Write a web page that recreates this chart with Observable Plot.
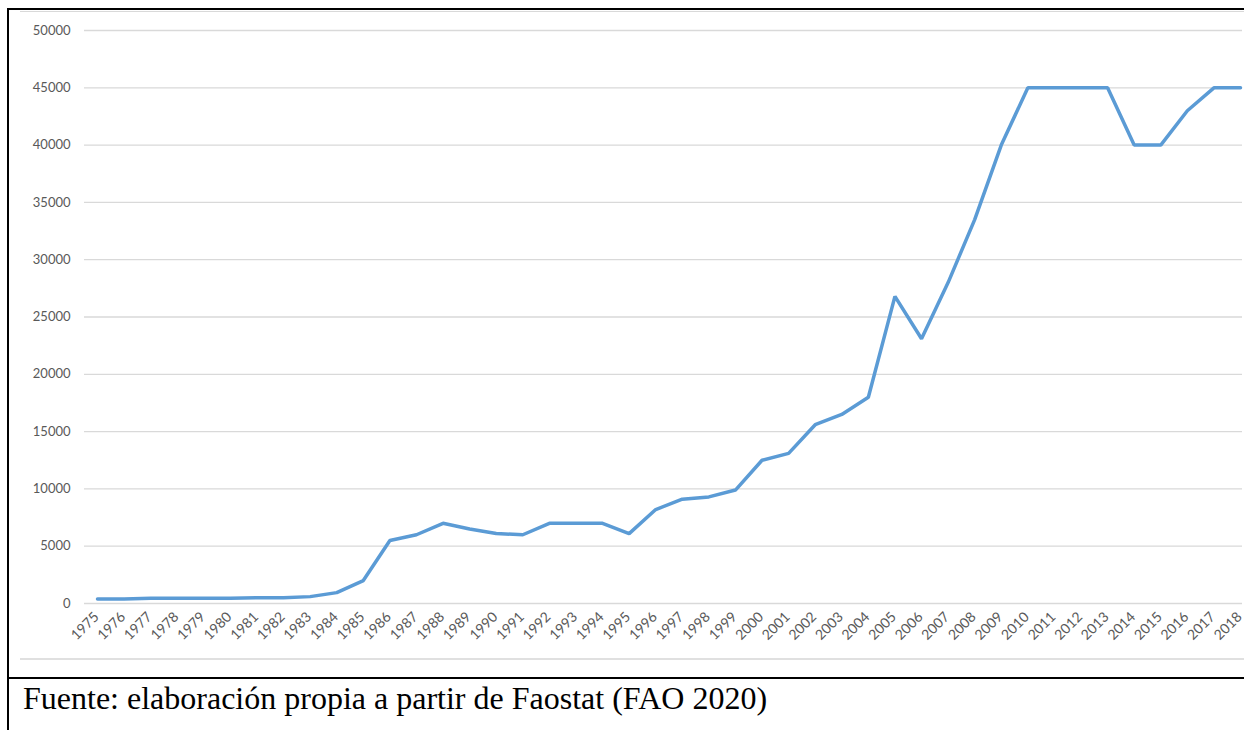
<!DOCTYPE html>
<html>
<head>
<meta charset="utf-8">
<script src="https://cdn.jsdelivr.net/npm/d3@7"></script>
<script src="https://cdn.jsdelivr.net/npm/@observablehq/plot@0.6"></script>
<style>
  body { margin: 0; background: #fff; width: 1244px; height: 730px; position: relative; overflow: hidden; }
  #chart { position: absolute; left: 0; top: 0; }
  #chart svg { overflow: visible; }
  .line { position: absolute; }
  #caption { position: absolute; left: 23px; top: 682px; font-family: "Liberation Serif", "Times New Roman", serif; font-size: 32px; line-height: 32px; color: #000; white-space: nowrap; }
</style>
</head>
<body>
<div id="chart"></div>
<div class="line" style="left:20px; top:11px; width:1224px; height:1px; background:#d9d9d9;"></div>
<div class="line" style="left:20px; top:658px; width:1224px; height:2px; background:#e0e0e0;"></div>
<div class="line" style="left:7px; top:8px; width:1237px; height:2px; background:#000;"></div>
<div class="line" style="left:7px; top:8px; width:2px; height:722px; background:#000;"></div>
<div class="line" style="left:7px; top:677px; width:1237px; height:2px; background:#000;"></div>
<div id="caption">Fuente: elaboración propia a partir de Faostat (FAO 2020)</div>
<script>
const years = [1975,1976,1977,1978,1979,1980,1981,1982,1983,1984,1985,1986,1987,1988,1989,1990,1991,1992,1993,1994,1995,1996,1997,1998,1999,2000,2001,2002,2003,2004,2005,2006,2007,2008,2009,2010,2011,2012,2013,2014,2015,2016,2017,2018];
const values = [400,400,450,450,450,450,500,500,600,950,2000,5500,6000,7000,6500,6100,6000,7000,7000,7000,6100,8200,9100,9300,9900,12500,13100,15600,16500,18000,26800,23100,28000,33500,40000,45000,45000,45000,45000,40000,40000,43000,45000,45000];
const yTicks = [0,5000,10000,15000,20000,25000,30000,35000,40000,45000,50000];

const data = years.map((y, i) => ({year: y, value: values[i]}));

const chart = Plot.plot({
  width: 1244,
  height: 660,
  marginLeft: 97,
  marginRight: 4,
  marginTop: 30,
  marginBottom: 57,
  style: {fontFamily: "Lato, 'Open Sans', sans-serif", fontSize: "13px", color: "#595959", background: "transparent", overflow: "visible"},
  x: {domain: [1975, 2018], ticks: years, tickFormat: d => String(d)},
  y: {domain: [0, 50000], ticks: yTicks, tickFormat: d => String(d)},
  marks: [
    Plot.ruleY(yTicks, {stroke: "#d9d9d9", strokeWidth: 1.3, insetLeft: -13, insetRight: -2}),
    Plot.axisY({ticks: yTicks, tickFormat: d => String(d), tickSize: 0, tickPadding: 27, label: null, fill: "#595959"}),
    Plot.axisX({ticks: years, tickFormat: d => String(d), tickSize: 0, tickPadding: 11, tickRotate: -45, label: null, fill: "#595959", fontSize: 14, dx: -1}),
    Plot.line(data, {x: "year", y: "value", stroke: "#5b9bd5", strokeWidth: 3.5, strokeLinejoin: "miter", strokeLinecap: "round"})
  ]
});
document.getElementById("chart").appendChild(chart);
</script>
</body>
</html>
